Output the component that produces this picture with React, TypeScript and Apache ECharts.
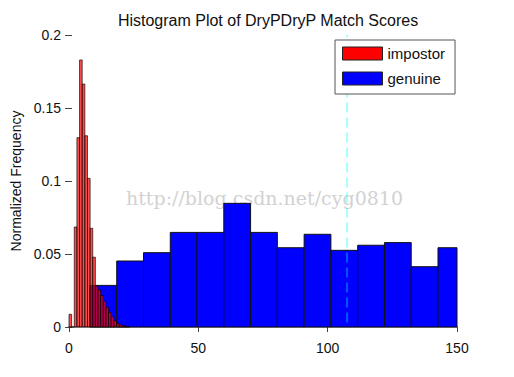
import React, { useEffect, useRef } from "react";
import * as echarts from "echarts";

// ---- data ----
const chartTitle = "Histogram Plot of DryPDryP Match Scores";
const yAxisName = "Normalized Frequency";
const seriesNames = ["impostor", "genuine"];
const watermark = "http://blog.csdn.net/cyg0810";

// impostor histogram: bins start at 0, width ~1.02
const impostorBinStart = 0;
const impostorBinWidth = 1.02;
const impostorFreq = [
  0.0087, 0, 0.0685, 0.1297, 0.1829, 0.1664, 0.131, 0.1018, 0.0676, 0.0478,
  0.028, 0.0255, 0.0215, 0.0175, 0.0135, 0.01, 0.007, 0.0045, 0.0025, 0.0015,
  0.001, 0.0005, 0.0004,
];

// genuine histogram: bins start at 8.1, width ~10.35
const genuineBinStart = 8.1;
const genuineBinWidth = 10.35;
const genuineFreq = [
  0.0285, 0.0452, 0.0509, 0.0648, 0.0648, 0.0847, 0.0648, 0.0543, 0.0635,
  0.0525, 0.056, 0.0578, 0.0413, 0.0543,
];

// threshold (dashed line)
const thresholdX = 107.5;
const thresholdY = [0.003, 0.2];

const xTicks = { min: 0, max: 150, interval: 50 };
const yTicks = { min: 0, max: 0.2, interval: 0.05 };

const FONT = "Liberation Sans, Arial, Helvetica, sans-serif";

function toBins(start: number, width: number, vals: number[]) {
  return vals.map((v, i) => [start + i * width, start + (i + 1) * width, v]);
}

function makeRender(stroke: string) {
  return (params: any, api: any) => {
    const x0 = api.value(0);
    const x1 = api.value(1);
    const y = api.value(2);
    const p0 = api.coord([x0, y]);
    const p1 = api.coord([x1, 0]);
    const cs = params.coordSys;
    const shape = echarts.graphic.clipRectByRect(
      { x: p0[0], y: p0[1], width: p1[0] - p0[0], height: p1[1] - p0[1] },
      { x: cs.x, y: cs.y, width: cs.width, height: cs.height + 1 }
    );
    if (!shape) return null;
    return {
      type: "rect",
      shape,
      style: { fill: api.visual("color"), stroke, lineWidth: 1 },
    };
  };
}

export default function App() {
  const ref = useRef<HTMLDivElement>(null);
  useEffect(() => {
    if (!ref.current) return;
    const chart = echarts.init(ref.current, null, { renderer: "svg" });
    const tickStyle = { color: "#444", width: 1 };
    chart.setOption({
      animation: false,
      backgroundColor: "#ffffff",
      title: {
        text: chartTitle,
        left: 263,
        top: 7,
        textAlign: "center",
        textStyle: { fontSize: 16, fontWeight: "normal", color: "#111", fontFamily: FONT },
      },
      grid: { left: 69, right: 57, top: 35, bottom: 50, containLabel: false },
      legend: {
        orient: "vertical",
        left: 335,
        top: 40,
        icon: "rect",
        itemWidth: 40,
        itemHeight: 13,
        itemGap: 10,
        padding: [6, 10, 8, 7],
        backgroundColor: "#ffffff",
        borderColor: "#555",
        borderWidth: 1,
        borderRadius: 0,
        z: 20,
        textStyle: { fontSize: 15, lineHeight: 15, color: "#111", fontFamily: FONT },
        data: [
          { name: seriesNames[0], itemStyle: { color: "#ff0000", borderColor: "#222", borderWidth: 1, opacity: 1 } },
          { name: seriesNames[1], itemStyle: { color: "#0000ff", borderColor: "#222", borderWidth: 1, opacity: 1 } },
        ],
      },
      xAxis: [
        {
          type: "value",
          min: xTicks.min,
          max: xTicks.max,
          interval: xTicks.interval,
          position: "bottom",
          axisLine: { show: true, lineStyle: { color: "#a8a8a8", width: 2 } },
          axisTick: { show: true, inside: false, length: 3, lineStyle: tickStyle },
          axisLabel: { fontSize: 14, color: "#111", margin: 14, fontFamily: FONT },
          splitLine: { show: false },
        },
        {
          type: "value",
          min: xTicks.min,
          max: xTicks.max,
          interval: xTicks.interval,
          position: "top",
          axisLine: { show: true, lineStyle: { color: "#a8a8a8", width: 2 } },
          axisTick: { show: true, inside: true, length: 5, lineStyle: tickStyle },
          axisLabel: { show: false },
          splitLine: { show: false },
        },
      ],
      yAxis: [
        {
          type: "value",
          min: yTicks.min,
          max: yTicks.max,
          interval: yTicks.interval,
          position: "left",
          name: yAxisName,
          nameLocation: "middle",
          nameGap: 44,
          nameRotate: 90,
          nameTextStyle: { fontSize: 14, color: "#111", fontFamily: FONT },
          axisLine: { show: false },
          axisTick: { show: true, inside: false, length: 4, lineStyle: tickStyle },
          axisLabel: { fontSize: 14, color: "#111", margin: 8, fontFamily: FONT },
          splitLine: { show: false },
        },
        {
          type: "value",
          min: yTicks.min,
          max: yTicks.max,
          interval: yTicks.interval,
          position: "right",
          axisLine: { show: false },
          axisTick: { show: true, inside: false, length: 3, lineStyle: tickStyle },
          axisLabel: { show: false },
          splitLine: { show: false },
        },
      ],
      series: [
        {
          name: seriesNames[1],
          type: "custom",
          z: 2,
          itemStyle: { color: "#0000ff" },
          renderItem: makeRender("#111111"),
          encode: { x: [0, 1], y: 2 },
          data: toBins(genuineBinStart, genuineBinWidth, genuineFreq),
        },
        {
          name: seriesNames[0],
          type: "custom",
          z: 3,
          itemStyle: { color: "rgba(255,0,0,0.7)" },
          renderItem: makeRender("rgba(0,0,0,0.65)"),
          encode: { x: [0, 1], y: 2 },
          data: toBins(impostorBinStart, impostorBinWidth, impostorFreq),
        },
        {
          name: "threshold",
          type: "line",
          z: 4,
          symbol: "none",
          silent: true,
          lineStyle: { color: "rgba(0,255,255,0.35)", width: 2, type: [10, 5] },
          data: thresholdY.map((y) => [thresholdX, y]),
        },
      ],
      graphic: [
        {
          type: "text",
          left: 126,
          top: 188,
          z: 0,
          silent: true,
          style: {
            text: watermark,
            fill: "#d2d2d2",
            fontSize: 19,
            fontFamily: "DejaVu Serif, Liberation Serif, serif",
          },
        },
      ],
    });
    return () => chart.dispose();
  }, []);
  return (
    <div
      ref={ref}
      style={{ position: "fixed", left: 0, top: 0, width: 514, height: 377, background: "#fff" }}
    />
  );
}
